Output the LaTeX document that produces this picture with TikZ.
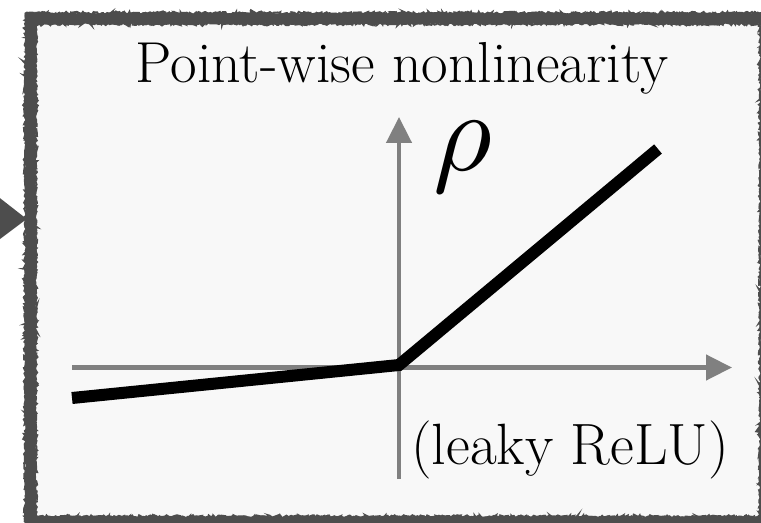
\documentclass[tikz,border=0pt]{standalone}
\usepackage{fontspec}
\usetikzlibrary{arrows.meta,decorations.pathmorphing}
\definecolor{bordergray}{HTML}{4D4D4D}
\definecolor{panelfill}{HTML}{F8F8F8}
\definecolor{axisgray}{HTML}{808080}
\tikzset{
  panelbox/.style={fill=panelfill, draw=none, minimum width=734.5bp, minimum height=503bp, inner sep=0pt, anchor=north west},
  roughline/.style={draw=bordergray, line width=11bp, decorate, decoration={random steps, segment length=2.5bp, amplitude=1.2bp}},
  roughedge/.style={draw=bordergray, line width=2bp, decorate, decoration={random steps, segment length=1.5bp, amplitude=1.6bp}},
  axisline/.style={draw=axisgray, line width=4.5bp, -{Triangle[length=26bp,width=25bp]}},
  relu/.style={draw=black, line width=12bp, line cap=butt, line join=miter},
  inarrow/.style={draw=bordergray, line width=10bp, -{Triangle[length=40bp,width=58bp]}},
  titletext/.style={font=\fontsize{58}{64}\selectfont, inner sep=0pt},
  labeltext/.style={font=\fontsize{58.5}{64}\selectfont, inner sep=0pt},
  rhotext/.style={font=\fontsize{10}{12}\selectfont, inner sep=0pt, scale=11.4}
}
\begin{document}
\begin{tikzpicture}[x=1bp,y=-1bp]
\pgfmathsetseed{7}
\useasboundingbox (0,0) rectangle (761,523);
\fill[white] (0,0) rectangle (761,523);
% panel
\node[panelbox] (panel) at (30.5,18.5) {};
\draw[roughline] (panel.north west) rectangle (panel.south east);
\draw[roughedge] ([shift={(-5,-5)}]panel.north west) rectangle ([shift={(5,5)}]panel.south east);
\draw[roughedge] ([shift={(5,5)}]panel.north west) rectangle ([shift={(-5,-5)}]panel.south east);
% incoming arrow
\coordinate (src) at (-80,218);
\coordinate (tip) at (27,219);
\draw[inarrow] (src) -- (tip);
% axes
\coordinate (xstart) at (72,367.5);
\coordinate (xend) at (732,367.5);
\coordinate (ystart) at (399,479);
\coordinate (yend) at (399,117);
\draw[axisline] (xstart) -- (xend);
\draw[axisline] (ystart) -- (yend);
% leaky relu
\coordinate (r0) at (72,398);
\coordinate (r1) at (399,365);
\coordinate (r2) at (658,149);
\draw[relu] (r0) -- (r1) -- (r2);
% texts
\node[titletext, anchor=base] (title) at (402,83) {Point-wise nonlinearity};
\node[rhotext] (rho) at (463,157) {$\rho$};
\node[labeltext, anchor=base east] (lbl) at (729,464) {(leaky ReLU)};
\end{tikzpicture}
\end{document}
